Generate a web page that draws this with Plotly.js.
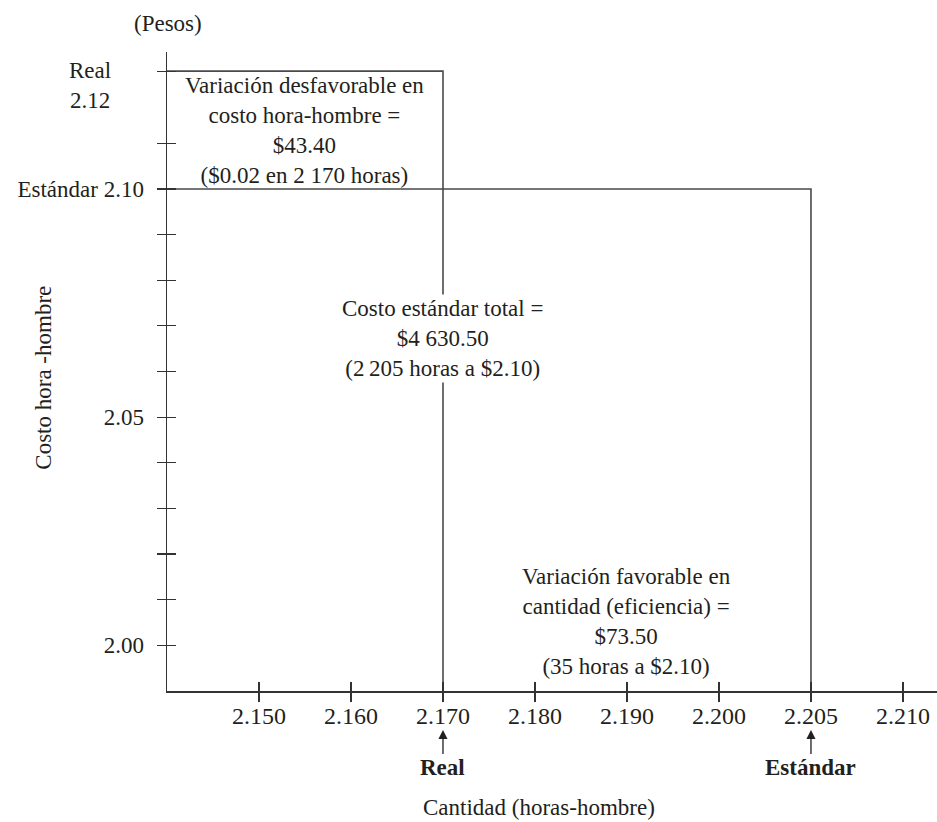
<!DOCTYPE html>
<html><head><meta charset="utf-8">
<script src="https://cdn.plot.ly/plotly-3.0.1.min.js"></script>
<style>body{margin:0;background:#fff}</style>
</head><body><div id="chart" style="width:937px;height:822px"></div>
<script>
// Quantity axis (horas-hombre), drawn as equally spaced steps
const qtyLabels = ['2.150','2.160','2.170','2.180','2.190','2.200','2.205','2.210'];
const realQty = '2.170';
const stdQty = '2.205';
// Cost axis (pesos)
const costTicks = [2.00,2.01,2.02,2.03,2.04,2.05,2.06,2.07,2.08,2.09,2.10,2.11];
const costTickLabels = ['2.00','','','','','2.05','','','','','Estándar 2.10',''];
const stdCost = 2.10;
const realCost = 2.1258; // "Real 2.12" level, as placed on the drawing
// Texts
const topText = ['Variación desfavorable en','costo hora-hombre =','$43.40','($0.02 en 2 170 horas)'];
const midText = ['Costo estándar total =','$4 630.50','(2\u2009205 horas a $2.10)'];
const lowText = ['Variación favorable en','cantidad (eficiencia) =','$73.50','(35 horas a $2.10)'];

const FONT = 'Liberation Serif, Times New Roman, serif';
const TXT = '#231f20';
const LINE = '#4a4a4a';
const FS = 23;
const xRange = [-1, 7.37];
const yRange = [1.99, 2.13];
const xIdx = q => qtyLabels.indexOf(q);
const tickIdx = qtyLabels.map((_, i) => i);
const yTickVals = costTicks.concat([realCost]);
const yTickText = costTickLabels.concat(['']);

const traces = [
  { x: [xRange[0], xIdx(realQty), xIdx(realQty)], y: [realCost, realCost, yRange[0]],
    mode: 'lines', line: {color: LINE, width: 1.6}, hoverinfo: 'skip', showlegend: false },
  { x: [xRange[0], xIdx(stdQty), xIdx(stdQty)], y: [stdCost, stdCost, yRange[0]],
    mode: 'lines', line: {color: LINE, width: 1.6}, hoverinfo: 'skip', showlegend: false },
  { x: [0], y: [2.0], xaxis: 'x2', yaxis: 'y2', mode: 'markers', marker: {opacity: 0},
    hoverinfo: 'skip', showlegend: false }
];

const ann = (text, x, y, xref, yref, extra) => Object.assign({
  text, x, y, xref, yref, showarrow: false, xanchor: 'center', yanchor: 'middle',
  font: {family: FONT, size: FS, color: TXT}
}, extra || {});

const arrowOpts = {showarrow: true, ax: 0, ay: 38, arrowhead: 2, arrowsize: 1.4, arrowwidth: 1.3, arrowcolor: TXT};

const annotations = [
  ann('(Pesos)', 0.0013, 1.045, 'paper', 'paper'),
  ann('Real<br>2.12', -0.1, 0.9468, 'paper', 'paper'),
  ann(topText.join('<br>'), (xRange[0] + xIdx(realQty)) / 2, (stdCost + realCost) / 2, 'x', 'y'),
  ann(midText.join('<br>'), xIdx(realQty), 0.551, 'x', 'paper', {bgcolor: '#ffffff'}),
  ann(lowText.join('<br>'), (xIdx(realQty) + xIdx(stdQty)) / 2, 0.108, 'x', 'paper'),
  ann('<b>Real</b>', xIdx(realQty), -0.061, 'x', 'paper', arrowOpts),
  ann('<b>Estándar</b>', xIdx(stdQty), -0.061, 'x', 'paper', arrowOpts),
  ann('Cantidad (horas-hombre)', 0.483, -0.183, 'paper', 'paper'),
  ann('Costo hora -hombre', -0.16, 0.49, 'paper', 'paper', {textangle: -90})
];

const axisCommon = {showgrid: false, zeroline: false, tickcolor: '#333', tickwidth: 1.2, ticklen: 9};

const layout = {
  width: 937, height: 822,
  margin: {l: 167, r: 0, t: 52, b: 131},
  paper_bgcolor: '#fff', plot_bgcolor: '#fff',
  font: {family: FONT, size: FS, color: TXT},
  xaxis: Object.assign({}, axisCommon, {
    range: xRange, tickmode: 'array', tickvals: tickIdx, ticktext: qtyLabels,
    ticks: 'outside', showline: true, linecolor: '#333', linewidth: 1.5,
    tickfont: {family: FONT, size: 24, color: TXT}, ticklabelstandoff: -6
  }),
  yaxis: Object.assign({}, axisCommon, {
    range: yRange, tickmode: 'array', tickvals: yTickVals, ticktext: yTickText,
    ticks: 'outside', showline: true, linecolor: '#333', linewidth: 1.5,
    tickfont: {family: FONT, size: 23, color: TXT}, ticklabelstandoff: 8
  }),
  xaxis2: Object.assign({}, axisCommon, {
    overlaying: 'x', anchor: 'y2', side: 'bottom', range: xRange,
    tickmode: 'array', tickvals: tickIdx, ticks: 'inside', showticklabels: false, showline: false
  }),
  yaxis2: Object.assign({}, axisCommon, {
    overlaying: 'y', anchor: 'x2', side: 'left', range: yRange,
    tickmode: 'array', tickvals: yTickVals, ticks: 'inside', showticklabels: false, showline: false
  }),
  annotations,
  showlegend: false
};

Plotly.newPlot('chart', traces, layout, {staticPlot: true});
</script></body></html>
